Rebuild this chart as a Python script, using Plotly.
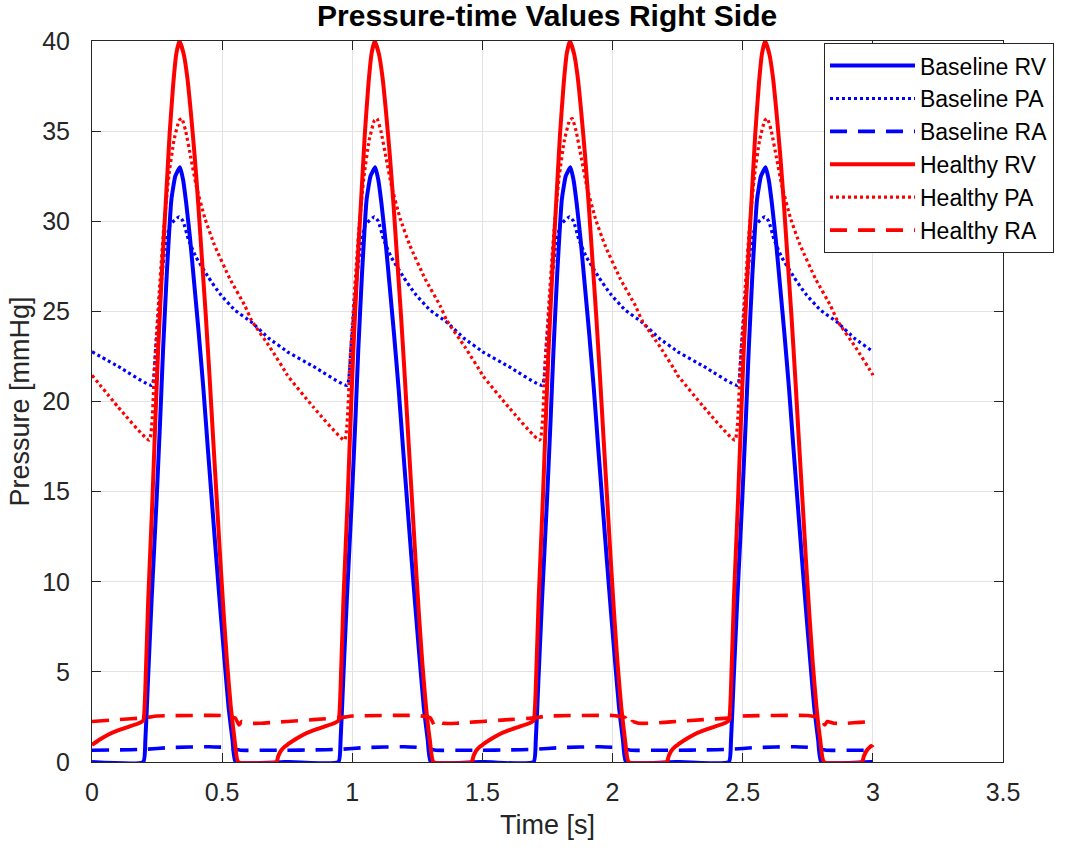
import numpy as np
import plotly.graph_objects as go

PERIOD = 0.75
N_CYCLES = 4

# ---- one heart cycle (time offset within cycle [s], pressure [mmHg]) ----
t_base_rv = [0.00, 0.197, 0.205, 0.215, 0.229, 0.248, 0.262, 0.273, 0.287, 0.305, 0.32, 0.338,
             0.35, 0.362, 0.377, 0.393, 0.41, 0.428, 0.445, 0.462, 0.478, 0.494, 0.51, 0.525,
             0.54, 0.552, 0.749]
p_base_rv = [0.0, 0.0, 1.2, 4.5, 9.0, 14.5, 19.0, 22.85, 27.0, 31.2, 32.5, 33.0,
             32.3, 31.0, 29.0, 26.5, 23.8, 20.7, 17.4, 14.2, 11.2, 8.3, 5.5, 3.0,
             1.2, 0.0, 0.0]

t_base_pa = [0.00, 0.10, 0.23, 0.245, 0.262, 0.28, 0.30, 0.335, 0.35, 0.37, 0.40, 0.447,
             0.49, 0.549, 0.613, 0.68, 0.749]
p_base_pa = [22.76, 21.95, 20.9, 23.0, 26.0, 28.5, 29.8, 30.25, 30.0, 29.0, 28.0, 26.9,
             26.0, 25.07, 24.4, 23.5, 22.78]

t_base_ra = [0.00, 0.10, 0.20, 0.30, 0.45, 0.52, 0.57, 0.65, 0.749]
p_base_ra = [0.65, 0.67, 0.70, 0.80, 0.85, 0.80, 0.65, 0.65, 0.65]

t_heal_rv = [0.00, 0.03, 0.06, 0.10, 0.14, 0.18, 0.197, 0.207, 0.216, 0.232, 0.243, 0.254,
             0.269, 0.284, 0.298, 0.312, 0.324, 0.336, 0.352, 0.366, 0.38, 0.394, 0.408,
             0.422, 0.437, 0.452, 0.466, 0.48, 0.493, 0.506, 0.519, 0.533, 0.548, 0.562,
             0.709, 0.715, 0.725, 0.74, 0.749]
p_heal_rv = [0.95, 1.25, 1.5, 1.75, 1.95, 2.15, 2.3, 5.0, 9.0, 14.5, 18.8, 22.85,
             27.3, 31.2, 34.8, 37.6, 39.3, 40.0, 39.3, 38.0, 36.0, 33.7, 31.0,
             28.0, 24.8, 21.3, 17.8, 14.4, 11.2, 8.2, 5.5, 3.1, 1.2, 0.0,
             0.0, 0.3, 0.6, 0.85, 0.93]

t_heal_pa = [0.00, 0.10, 0.22, 0.24, 0.258, 0.275, 0.295, 0.315, 0.335, 0.345, 0.36, 0.38,
             0.40, 0.434, 0.47, 0.53, 0.588, 0.613, 0.684, 0.749]
p_heal_pa = [21.46, 19.7, 17.86, 22.0, 26.0, 29.5, 32.5, 34.5, 35.6, 35.7, 35.0, 33.5,
             32.0, 30.15, 28.7, 26.8, 25.3, 24.5, 23.0, 21.5]

t_heal_ra = [0.00, 0.10, 0.20, 0.25, 0.50, 0.55, 0.565, 0.575, 0.60, 0.65, 0.70, 0.749]
p_heal_ra = [2.25, 2.35, 2.45, 2.55, 2.58, 2.45, 2.05, 2.25, 2.15, 2.15, 2.2, 2.25]

x_ticks = [0, 0.5, 1, 1.5, 2, 2.5, 3, 3.5]
y_ticks = [0, 5, 10, 15, 20, 25, 30, 35, 40]


def repeat_cycles(t_off, p):
    t_off = np.asarray(t_off, dtype=float)
    p = np.asarray(p, dtype=float)
    t_all = np.concatenate([t_off + k * PERIOD for k in range(N_CYCLES)] + [[N_CYCLES * PERIOD]])
    p_all = np.concatenate([p for _ in range(N_CYCLES)] + [[p[0]]])
    return t_all, p_all


series = [
    ("Baseline RV", t_base_rv, p_base_rv, "#0000ff", "solid", 4),
    ("Baseline PA", t_base_pa, p_base_pa, "#0000ff", "3px,3px", 3.2),
    ("Baseline RA", t_base_ra, p_base_ra, "#0000ff", "17px,11px", 3.6),
    ("Healthy RV", t_heal_rv, p_heal_rv, "#ff0000", "solid", 4),
    ("Healthy PA", t_heal_pa, p_heal_pa, "#ff0000", "3px,3px", 3.2),
    ("Healthy RA", t_heal_ra, p_heal_ra, "#ff0000", "17px,11px", 3.6),
]

FONT = "Liberation Sans, Arial, Helvetica, sans-serif"
INK = "#262626"

fig = go.Figure()
for i, (name, t_off, p, color, dash, width) in enumerate(series):
    tx, py = repeat_cycles(t_off, p)
    fig.add_trace(go.Scatter(
        x=tx, y=py, mode="lines", name=name, legendgroup=f"g{i}",
        line=dict(color=color, dash=dash, width=width, shape="spline", smoothing=0.4),
    ))

axis_common = dict(
    showline=True, linecolor=INK, linewidth=1, mirror="ticks",
    ticks="inside", ticklen=9, tickcolor=INK, tickwidth=1,
    showgrid=True, gridcolor="#e3e3e3", gridwidth=1,
    zeroline=False, tickfont=dict(family=FONT, size=25, color=INK),
)

fig.update_layout(
    width=1076, height=856,
    margin=dict(l=92, r=73, t=41, b=94),
    paper_bgcolor="white", plot_bgcolor="white",
    title=dict(text="<b>Pressure-time Values Right Side</b>", x=0.5085, xanchor="center",
               yref="container", y=1 - 15 / 856, yanchor="middle",
               font=dict(family=FONT, size=30, color="black")),
    xaxis=dict(range=[0, 3.5], tickvals=x_ticks, ticktext=[f"{v:g}" for v in x_ticks],
               ticklabelstandoff=8,
               title=dict(text="Time [s]", font=dict(family=FONT, size=27, color=INK), standoff=10),
               **axis_common),
    yaxis=dict(range=[0, 40], tickvals=y_ticks, ticktext=[str(v) for v in y_ticks],
               ticklabelstandoff=16,
               title=dict(text="Pressure [mmHg]", font=dict(family=FONT, size=27, color=INK), standoff=4),
               **axis_common),
    legend=dict(x=0.8035, y=0.997, xanchor="left", yanchor="top",
                bordercolor=INK, borderwidth=1, bgcolor="white",
                font=dict(family=FONT, size=23, color="black"),
                itemwidth=85, tracegroupgap=3, traceorder="normal"),
    showlegend=True,
)

fig.write_html("out.html")
